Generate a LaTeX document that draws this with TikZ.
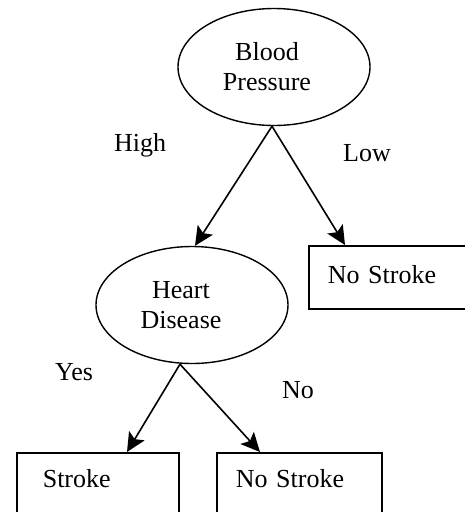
\documentclass[tikz,border=0pt]{standalone}
\usepackage{fontspec}
\setmainfont{Liberation Serif}
\usetikzlibrary{shapes.geometric,arrows.meta}
\begin{document}
\begin{tikzpicture}[x=1pt,y=-1pt,
  every node/.style={font=\fontsize{26}{30}\selectfont},
  decision/.style={ellipse,draw,line width=1.4pt,minimum width=192pt,minimum height=117pt,inner sep=0pt,align=center},
  leafbox/.style={rectangle,draw,line width=1.6pt,anchor=north west,minimum height=63pt,align=left},
  lbl/.style={inner sep=0pt},
  arr/.style={line width=1.6pt,-{Stealth[length=19pt,width=18pt,inset=4pt]}}]
\useasboundingbox (0,0) rectangle (464,512);
\node[decision] (bp) at (274,67) {Blood\kern14pt\\Pressure\kern14pt};
\node[decision] (hd) at (192,305) {Heart\kern22pt\\Disease\kern22pt};
\node[leafbox,inner xsep=19pt,text width=127pt,text depth=5pt] (ns1) at (308,245) {No Stroke};
\node[leafbox,inner xsep=26pt,text width=110pt,text depth=12pt] (st) at (16,452) {Stroke};
\node[leafbox,inner xsep=19pt,text width=127pt,text depth=12pt] (ns2) at (216,452) {No Stroke};
\node[lbl] (high) at (140,145) {High};
\node[lbl] (low) at (367,153) {Low};
\node[lbl] (yes) at (74,372) {Yes};
\node[lbl] (no) at (298,390) {No};
\draw[arr] ([xshift=-2pt]bp.south) -- ([xshift=3pt]hd.north);
\draw[arr] ([xshift=-2pt]bp.south) -- ([xshift=37pt]ns1.north west);
\draw[arr] ([xshift=-12pt]hd.south) -- ([xshift=111pt]st.north west);
\draw[arr] ([xshift=-12pt]hd.south) -- ([xshift=44pt]ns2.north west);
\end{tikzpicture}
\end{document}
